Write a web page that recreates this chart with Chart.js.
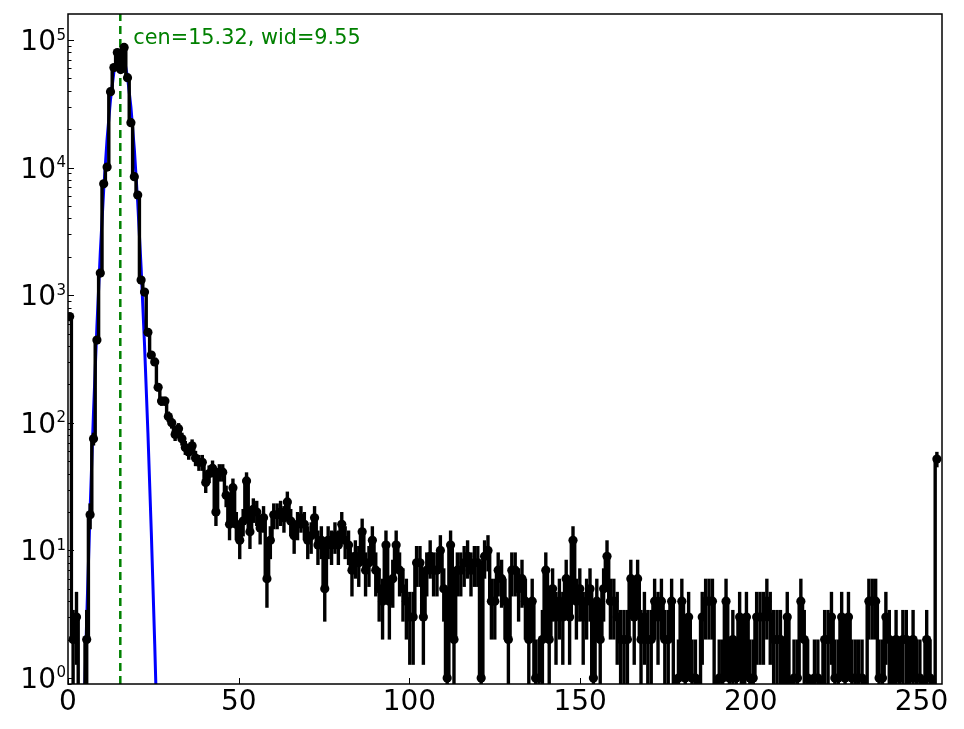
<!DOCTYPE html>
<html>
<head>
<meta charset="utf-8">
<title>histogram with gaussian fit</title>
<script src="https://cdn.jsdelivr.net/npm/chart.js@4.4.1/dist/chart.umd.min.js"></script>
<style>
  html, body { margin: 0; padding: 0; background: #fff; }
  #wrap { width: 964px; height: 729px; }
</style>
</head>
<body>
<div id="wrap"><canvas id="c" width="964" height="729"></canvas></div>
<script>
// counts per bin, bins 0..255
var counts = [
  680, 2, 3, 0, 0, 2, 19, 75, 445, 1490,
  7460, 10100, 39400, 60800, 79800, 58700, 87500, 50700, 22500, 8500,
  6100, 1315, 1058, 512, 340, 300, 190, 148, 148, 112,
  100, 81, 90, 75, 64, 59, 66, 53, 49, 49,
  34, 40, 44, 20, 41, 41, 27, 16, 31, 16,
  12, 17, 35, 14, 21, 20, 15, 18, 6, 12,
  19, 19, 20, 18, 24, 17, 13, 16, 18, 16,
  12, 13, 18, 11, 12, 5, 12, 11, 13, 11,
  16, 12, 11, 7, 9, 8, 14, 7, 8, 12,
  7, 5, 4, 11, 4, 6, 11, 7, 5, 4,
  3, 3, 8, 8, 3, 7, 9, 7, 7, 10,
  5, 1, 11, 2, 7, 7, 8, 9, 7, 8,
  8, 1, 9, 10, 4, 4, 7, 6, 4, 2,
  7, 7, 5, 6, 4, 2, 4, 1, 1, 2,
  7, 2, 5, 3, 4, 3, 6, 3, 12, 4,
  5, 3, 4, 5, 1, 4, 2, 5, 9, 4,
  4, 3, 2, 2, 2, 6, 3, 6, 2, 3,
  2, 2, 4, 3, 4, 2, 2, 4, 0, 1,
  4, 1, 3, 1, 1, 0, 3, 4, 4, 4,
  0, 1, 1, 4, 1, 2, 1, 3, 0, 3,
  1, 1, 3, 3, 3, 4, 3, 2, 2, 2,
  0, 3, 0, 1, 1, 4, 2, 1, 0, 1,
  1, 0, 2, 2, 3, 1, 1, 3, 1, 3,
  1, 1, 1, 1, 0, 4, 4, 4, 1, 1,
  3, 2, 0, 2, 1, 2, 2, 1, 2, 1,
  1, 0, 2, 1, 0, 52
];

// gaussian fit curve, drawn on bins 3..27
var fitBins = [3, 4, 5, 6, 7, 8, 9, 10, 11, 12, 13, 14, 15, 16, 17, 18, 19, 20, 21, 22, 23, 24, 25, 26, 27];
var fitVals = [0.03, 0.33, 2.9, 20.8, 121, 569, 2170, 6720, 16800, 34200, 56400, 75500, 81900,
               72100, 51400, 29800, 14000, 5330, 1645, 412, 83.5, 13.8, 1.85, 0.2, 0.018];
var fitCen = 15.32;
var fitWid = 9.55;

var xTicks = [0, 50, 100, 150, 200, 250];
var yDecades = [0, 1, 2, 3, 4, 5];
var xMin = 0, xMax = 256;
var yMin = 0.897, yMax = 1.6e5;

var FONT = '"DejaVu Sans", "Liberation Sans", sans-serif';

// 256 bins spread over 0..255
function binCenter(i) { return (i + 0.5) * 255 / 256; }
// empty bins sit under the log floor so the steps run off the bottom
function logSafe(v) { return v > 0 ? v : 1e-3; }

var countPts = counts.map(function (n, i) { return { x: binCenter(i), y: logSafe(n) }; });
var fitPts = fitBins.map(function (b, k) { return { x: binCenter(b), y: fitVals[k] }; });
var cenPts = [{ x: fitCen, y: yMin }, { x: fitCen, y: yMax }];

var frame = {
  id: 'frame',
  beforeDatasetDraw: function (chart, args) {
    if (args.index !== 0) return;
    // poisson error bars under the markers
    var ctx = chart.ctx, xs = chart.scales.x, ys = chart.scales.y, a = chart.chartArea;
    ctx.save();
    ctx.beginPath();
    ctx.rect(a.left, a.top, a.right - a.left, a.bottom - a.top);
    ctx.clip();
    ctx.strokeStyle = '#000';
    ctx.lineWidth = 3.4;
    counts.forEach(function (n, i) {
      if (n <= 0) return;
      var e = Math.sqrt(n);
      var px = xs.getPixelForValue(binCenter(i));
      ctx.beginPath();
      ctx.moveTo(px, ys.getPixelForValue(logSafe(n - e)));
      ctx.lineTo(px, ys.getPixelForValue(n + e));
      ctx.stroke();
    });
    ctx.restore();
  },
  afterDraw: function (chart) {
    var ctx = chart.ctx, xs = chart.scales.x, ys = chart.scales.y, a = chart.chartArea;
    ctx.save();
    ctx.strokeStyle = '#000';
    ctx.lineWidth = 1;

    // inward ticks
    xTicks.forEach(function (v) {
      var px = Math.round(xs.getPixelForValue(v)) + 0.5;
      ctx.beginPath(); ctx.moveTo(px, a.bottom); ctx.lineTo(px, a.bottom - 6); ctx.stroke();
    });
    for (var d = -1; d <= 5; d++) {
      for (var m = 1; m <= 9; m++) {
        var v = m * Math.pow(10, d);
        if (v < yMin || v > yMax) continue;
        var py = Math.round(ys.getPixelForValue(v)) + 0.5;
        ctx.beginPath(); ctx.moveTo(a.left, py); ctx.lineTo(a.left + (m === 1 ? 6 : 3.5), py); ctx.stroke();
      }
    }

    // frame
    ctx.lineWidth = 1.5;
    ctx.strokeRect(a.left, a.top, a.right - a.left, a.bottom - a.top);

    // y labels as 10 with a raised exponent
    ctx.fillStyle = '#000';
    ctx.textBaseline = 'alphabetic';
    ctx.textAlign = 'right';
    yDecades.forEach(function (d) {
      var py = ys.getPixelForValue(Math.pow(10, d));
      ctx.font = '15px ' + FONT;
      var sup = String(d);
      var supW = ctx.measureText(sup).width;
      ctx.fillText(sup, a.left - 2, py - 0.5);
      ctx.font = '28px ' + FONT;
      ctx.fillText('10', a.left - 2 - supW - 0.5, py + 10);
    });

    // fit annotation
    ctx.textAlign = 'left';
    ctx.fillStyle = '#008000';
    ctx.font = '20.8px ' + FONT;
    ctx.fillText('cen=' + fitCen.toFixed(2) + ', wid=' + fitWid.toFixed(2),
                 xs.getPixelForValue(fitCen) + 13, a.top + 29.5);
    ctx.restore();
  }
};

new Chart(document.getElementById('c'), {
  type: 'line',
  data: {
    datasets: [
      {
        label: 'counts',
        data: countPts,
        borderColor: '#000',
        borderWidth: 3.4,
        stepped: 'middle',
        pointRadius: function (c) { return counts[c.dataIndex] > 0 ? 4.6 : 0; },
        pointBackgroundColor: '#000',
        pointBorderWidth: 0,
        fill: false,
        clip: 0
      },
      {
        label: 'centre',
        data: cenPts,
        borderColor: '#008000',
        borderWidth: 2.5,
        borderDash: [8, 5],
        pointRadius: 0,
        fill: false,
        clip: 0
      },
      {
        label: 'fit',
        data: fitPts,
        borderColor: '#0000ff',
        borderWidth: 3,
        pointRadius: 0,
        fill: false,
        clip: 0
      }
    ]
  },
  options: {
    responsive: false,
    devicePixelRatio: 1,
    animation: false,
    layout: { padding: { top: 14, right: 22, left: 0, bottom: 0 } },
    plugins: { legend: { display: false }, tooltip: { enabled: false } },
    scales: {
      x: {
        type: 'linear', min: xMin, max: xMax, bounds: 'data',
        grid: { display: false, drawTicks: false },
        border: { display: false },
        afterBuildTicks: function (s) { s.ticks = xTicks.map(function (v) { return { value: v }; }); },
        afterFit: function (s) { s.height = 45; },
        ticks: {
          font: { family: FONT, size: 28 }, color: '#000', padding: 2,
          maxRotation: 0, autoSkip: false,
          callback: function (v) { return String(v); }
        }
      },
      y: {
        type: 'logarithmic', min: yMin, max: yMax, bounds: 'data',
        grid: { display: false, drawTicks: false },
        border: { display: false },
        ticks: { display: false },
        afterFit: function (s) { s.width = 68; }
      }
    }
  },
  plugins: [frame]
});
</script>
</body>
</html>
